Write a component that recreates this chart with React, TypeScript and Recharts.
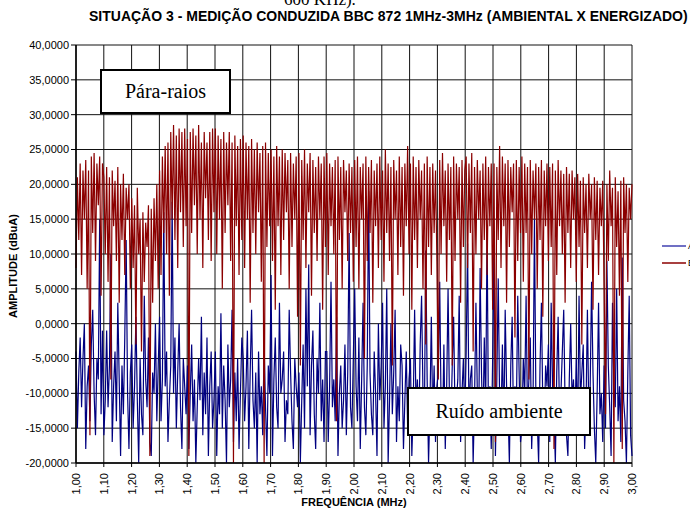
import React from 'react';
import { LineChart, Line, XAxis, YAxis, CartesianGrid } from 'recharts';

// Sweep limits of the conducted measurement (MHz)
const FREQ_START = 1.0;
const FREQ_STOP = 3.0;

// Ambient noise (dBuA), one reading per sweep step, 20 readings per 0.1 MHz
const ambiente: number[] = [
  -4, -15, -7, -2, -12, -5, 0, -18, -9, -6, -14, -3, 2, -10, -16, -5, -8, 15, -13, -1,
  -16, -11, -1, -12, -6, 10, -17, -9, -4, -14, 3, -8, -19, -6, -13, -2, 12, -10, -18, -7,
  -3, -15, -9, 1, -11, -20, -5, -13, -16, 4, -8, -12, -2, -17, -19, -7, -10, 0, -14, -6,
  1, -14, -8, 16, -9, -4, -17, -11, -6, 17.5, -10, -2, -15, -7, 0, -12, -18, -5, -9, -13,
  -6, -18, -10, -3, -14, -8, -20, -12, -5, -11, 1, -16, -7, -13, -2, -19, -9, -4, -15, -11,
  -4, -19, -9, -13, 1.5, -15, -6, -11, -20, -3, -12, -8, 2, -17, -7, -14, -5, -18, -10, -2,
  -5, -14, -9, -1, -18, -7, 2, -11, -15, -7, -20, -4, -13, -9, -16, -3, -12, -19, -6, -10,
  7, -19, -8, -2, -12, -15, 3, -10, -8, -4, -17, -11, -13, 2, -7, -14, -18, -5, -9, -12,
  -7, -20, -11, -3, -15, 5, -9, 8.5, -16, -6, -1, -13, -18, -5, -10, 3, -14, -8, -17, -4,
  -4, -17, -9, 6, -12, -8, -14, 1, -19, -10, -6, -15, -11, -3, -16, -7, 13, -12, -15, -5,
  5, -9, -14, -2, -18, -8, 3, -12, -16, -6, 19, -7, -13, -16, -4, -10, -19, 0, -11, -6,
  3, -15, -9, 5, -20, -11, 0, -13, -7, 2, -17, -9, -14, -3, -6, -18, -11, -4, -15, -8,
  -5, -19, -12, 2, -12, -8, -16, -3, 4, -10, -14, 10.5, -8, -20, -12, 1, -14, -6, -17, -9,
  -7, 6, -12, -16, -3, -18, -9, 5, -11, -15, -6, 1, -13, -11, -8, 4, -17, -10, -5, -14,
  -4, 11.5, -13, -8, -6, -20, -11, 3, -10, -15, 8, -7, -16, -2, -12, 13.5, -14, -9, -18, -5,
  11.5, -19, -8, 6.5, -11, -14, -3, -16, 2, -9, -12, -20, -6, 1, -15, -9, -13, 4, -7, -17,
  -15, -5, -10, 4, -13, -8, -2, -18, -11, 15, -10, -14, -20, -6, 3, -12, -16, -6, -9, -3,
  -17, 3, -9, -13, -20, -7, 1, -14, -10, -4, 2, -12, -16, -19, -8, 0, -11, -8, -15, -5,
  -16, 4, -11, -7, -3, -18, -12, 2, -13, -9, 6, -7, -15, -20, -10, 3, -13, -10, -17, -6,
  -15, 9, -6, -12, -19, 3, -9, -12, 5, -14, -9, -17, 9.5, -11, -14, -20, -7, 4, -16, -19,
];

// Energized line with surge arrester (dBuA)
const energizado: number[] = [
  8, 21, 12, 23, 7, 22, 15, 23.5, 5, 22, -16, 24, 13, 24.5, 9, 23, 17, 24, 4, 23,
  21, 10, 22.5, 6, 21, -8, 22, 14, 20.5, 9, 22.5, 3, 20, 12, 21.5, 7, 19.5, 15, 20, 5,
  18, 8, 17, -3, 19.5, 10, 15, -4, 16, 6, 14.5, 11, 17, -19, 16.5, 3, 18, 9, 20, 5,
  22, 7, 24, 13, 25.5, 10, 26, 4, 27.5, 15, 28.5, 12, 27, 8, 28, 16, 27.5, 11, 28, 14,
  26.5, -19, 27.5, 13, 28, 17, 27, 10, 28.5, 15, 26, 8, 27.5, 18, 26, 12, 27.5, 9, 28, 16,
  28, 10, 27, 15, 26.5, 5, 27.5, 13, 26, 17, 27.5, 9, 26, -20, 27, 14, 25.5, 7, 26.5, 12,
  27, 8, 26, 15, 25.5, 3, 26.5, 13, 25, 10, 26, 16, 24.5, 6, 25.5, -20, 26, 11, 24.5, 14,
  25, 9, 24, 2, 25.5, 14, 24, 7, 25, 12, 24.5, 16, 23.5, 5, 24.5, 11, 23, 15, 24, 1,
  24.5, -6, 23.5, 12, 25, 8, 23, 16, 24.5, 4, 23.5, 13, 22.5, 9, 24, 15, 23, 2, 24, 11,
  24.5, 7, 23, 14, 22.5, 10, 23.5, -14, 24, 12, 22.5, 5, 23.5, 16, 22, 9, 23, 13, 22.5, 6,
  23.5, 11, 24, 5, 22.5, 15, 23, -5, 24, 9, 22.5, 13, 23.5, 3, 22, 14, 23, 8, 24, 12,
  22, 6, 25, 13, 23, 9, 22.5, -6, 23.5, 15, 22, 7, 24, 11, 22.5, 4, 23, 14, 25.5, 10,
  23, 2, 24, 12, 22.5, 8, 23.5, 15, 22, 5, 23, -3, 24, 11, 22.5, 7, 23, 13, 22, 9,
  -8, 23.5, 10, 24.5, 14, 22, 6, 23, 12, 22.5, -6, 24, 9, 23, 15, 22.5, 3, 23.5, 11, 22,
  24, 8, 23, 13, 24.5, -4, 22.5, 10, 23.5, 15, 22, 5, 23, 12, 24, 7, 22.5, 14, 23, 2,
  23, -17, 22.5, 12, 25.5, 8, 24, 14, 23, 3, 23.5, 11, 22.5, 16, 23, -2, 23.5, 9, 22.5, 13,
  24, 6, 23, 13, 22.5, -8, 23.5, 10, 22, 15, 23, 5, 22.5, 12, 23.5, 1, 22, 14, 23, 9,
  22.5, 11, 23, -18, 22, 7, 23.5, 14, 22, 10, 21.5, 3, 22.5, 13, 21.5, 8, 22, 15, 21, 6,
  21.5, 11, 20.5, -3, 21, 13, 20, 8, 21.5, 15, 20, 2, 21, 12, 20.5, 7, 19.5, 14, 20.5, 5,
  -13, 20, 9, 22, 14, 19.5, -20, 21, 11, 19, 4, 20.5, -18, 21, 13, 20, 6, 19.5, 15, 20,
];

const freqTicks = [
  1.0, 1.1, 1.2, 1.3, 1.4, 1.5, 1.6, 1.7, 1.8, 1.9, 2.0,
  2.1, 2.2, 2.3, 2.4, 2.5, 2.6, 2.7, 2.8, 2.9, 3.0,
];
const ampTicks = [-20, -15, -10, -5, 0, 5, 10, 15, 20, 25, 30, 35, 40];

const TITLE = 'SITUAÇÃO 3 - MEDIÇÃO CONDUZIDA BBC 872 1MHz-3MHz (AMBIENTAL X ENERGIZADO)';
const X_TITLE = 'FREQUÊNCIA (MHz)';
const Y_TITLE = 'AMPLITUDE (dBuA)';
const LEGEND = ['Ambiente', 'Energizado'];
const BLUE = '#000080';
const RED = '#8b0000';

const data = ambiente.map((a, i) => ({
  freq: FREQ_START + (i * (FREQ_STOP - FREQ_START)) / (ambiente.length - 1),
  ambiente: a,
  energizado: energizado[i],
}));

const SANS = '"Liberation Sans", Arial, sans-serif';
const SERIF = '"Liberation Serif", "Times New Roman", serif';

const comma = (v: number, d: number) => v.toFixed(d).replace('.', ',');

const FreqTick = (props: any) => {
  const { x, y, payload } = props;
  return (
    <text
      x={0}
      y={0}
      transform={`translate(${x + 4},${y + 4}) rotate(-90)`}
      textAnchor="end"
      fontSize={11}
      fontFamily={SANS}
      fill="#000"
    >
      {comma(payload.value, 2)}
    </text>
  );
};

export default function App() {
  return (
    <div
      style={{
        position: 'absolute',
        left: 0,
        top: 0,
        width: 690,
        height: 509,
        overflow: 'hidden',
        background: '#fff',
      }}
    >
      <LineChart
        width={690}
        height={509}
        data={data}
        margin={{ top: 45, right: 58, left: 0, bottom: 0 }}
      >
        <CartesianGrid stroke="#111" strokeWidth={1} />
        <XAxis
          dataKey="freq"
          type="number"
          domain={[FREQ_START, FREQ_STOP]}
          ticks={freqTicks}
          interval={0}
          height={46}
          tick={<FreqTick />}
          tickSize={4}
          axisLine={{ stroke: '#000', strokeWidth: 1.5 }}
          tickLine={{ stroke: '#000' }}
        />
        <YAxis
          type="number"
          domain={[-20, 40]}
          ticks={ampTicks}
          interval={0}
          width={76}
          tickSize={5}
          tickFormatter={(v: number) => comma(v, 4)}
          tick={{ fontSize: 11, fontFamily: SANS, fill: '#000' }}
          axisLine={{ stroke: '#000', strokeWidth: 1.5 }}
          tickLine={{ stroke: '#000' }}
        />
        <Line
          type="linear"
          dataKey="ambiente"
          stroke={BLUE}
          strokeWidth={1.2}
          dot={false}
          isAnimationActive={false}
        />
        <Line
          type="linear"
          dataKey="energizado"
          stroke={RED}
          strokeWidth={1.2}
          dot={false}
          isAnimationActive={false}
        />
      </LineChart>

      <svg
        width={690}
        height={509}
        style={{ position: 'absolute', left: 0, top: 0, pointerEvents: 'none' }}
      >
        <text x={320} y={5} textAnchor="middle" fontFamily={SERIF} fontSize={17} fill="#000">
          600 KHz).
        </text>
        <text x={89} y={21} fontFamily={SANS} fontWeight="bold" fontSize={14} fill="#000">
          {TITLE}
        </text>
        <text
          transform="translate(17,266) rotate(-90)"
          textAnchor="middle"
          fontFamily={SANS}
          fontWeight="bold"
          fontSize={11}
          fill="#000"
        >
          {Y_TITLE}
        </text>
        <text x={354} y={506} textAnchor="middle" fontFamily={SANS} fontWeight="bold" fontSize={11} fill="#000">
          {X_TITLE}
        </text>

        <rect x={101} y={70} width={129} height={43} fill="#fff" stroke="#000" strokeWidth={2} />
        <text x={165.5} y={98} textAnchor="middle" fontFamily={SERIF} fontSize={20} fill="#000">
          Pára-raios
        </text>
        <rect x={408} y={388} width={182} height={47} fill="#fff" stroke="#000" strokeWidth={2} />
        <text x={499} y={418} textAnchor="middle" fontFamily={SERIF} fontSize={20} fill="#000">
          Ruído ambiente
        </text>

        <line x1={662} y1={246} x2={686} y2={246} stroke="#4040b0" strokeWidth={1.5} />
        <text x={688} y={249} fontFamily={SANS} fontSize={9} fill="#000">
          {LEGEND[0]}
        </text>
        <line x1={662} y1={263} x2={686} y2={263} stroke={RED} strokeWidth={1.5} />
        <text x={688} y={266} fontFamily={SANS} fontSize={9} fill="#000">
          {LEGEND[1]}
        </text>
      </svg>
    </div>
  );
}
